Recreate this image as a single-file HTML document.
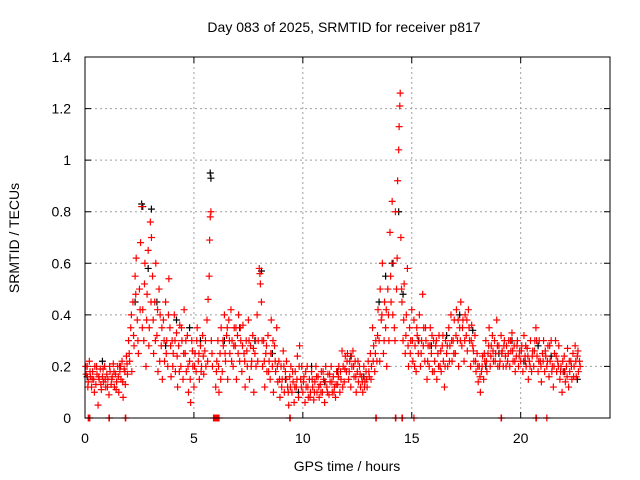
<!DOCTYPE html>
<html><head><meta charset="utf-8"><style>
body{margin:0;background:#fff}
svg{display:block;font-family:"Liberation Sans",sans-serif}
</style></head><body>
<svg id="chart" width="640" height="480" xmlns="http://www.w3.org/2000/svg">
<text x="344" y="32" font-size="14" text-anchor="middle">Day 083 of 2025, SRMTID for receiver p817</text>
<text x="347" y="471" font-size="14" text-anchor="middle">GPS time / hours</text>
<text transform="translate(19,238) rotate(-90)" font-size="14" text-anchor="middle">SRMTID / TECUs</text>
<g id="grid"></g>
<g id="ticks"></g>
<g id="black"></g>
<g id="red"></g>
<rect x="85" y="57" width="525" height="361" fill="none" stroke="#000" stroke-width="1"/>
</svg>
<script>
const xTicks=[0,5,10,15,20];
const yTicks=[0,0.2,0.4,0.6,0.8,1,1.2,1.4];
const yTickLabels=["0","0.2","0.4","0.6","0.8","1","1.2","1.4"];
const redPoints=[[0.05,.17],[0.1,.2],[0.15,.14],[0.2,.22],[0.25,.16],[0.3,.12],[0.35,.18],[0.4,.15],[0.45,.2],[0.5,.13],[0.55,.17],[0.6,.05],[0.65,.15],[0.7,.19],[0.75,.11],[0.8,.16],[0.85,.14],[0.9,.2],[0.95,.12],[1.0,.17],[1.05,.15],[1.1,.09],[1.15,.18],[1.2,.13],[1.25,.16],[1.3,.21],[1.35,.12],[1.4,.17],[1.45,.14],[1.5,.2],[1.55,.1],[1.6,.18],[1.65,.15],[1.7,.22],[1.75,.08],[1.8,.19],[1.85,.13],[1.9,.24],[1.95,.17],
[2.0,.3],[2.05,.22],[2.1,.35],[2.15,.18],[2.2,.45],[2.25,.28],[2.3,.55],[2.35,.62],[2.4,.38],[2.45,.25],[2.5,.5],[2.55,.68],[2.6,.82],[2.65,.42],[2.7,.3],[2.75,.6],[2.8,.2],[2.85,.48],[2.9,.65],[2.95,.35],[3.0,.76],[3.05,.7],[3.1,.55],[3.15,.25],[3.2,.45],[3.25,.6],[3.3,.32],[3.35,.18],[3.4,.5],[3.45,.4],[3.5,.28],[3.55,.15],[3.6,.38],[3.65,.22],[3.7,.45],[3.75,.3],[3.8,.2],[3.85,.54],[3.9,.35],[3.95,.16],[4.0,.3],[4.05,.25],[4.1,.4],[4.15,.18],[4.2,.33],[4.25,.12],[4.3,.28],[4.35,.36],[4.4,.2],[4.45,.3],[4.5,.15],[4.55,.42],[4.6,.25],[4.65,.18],[4.7,.32],[4.75,.1],[4.8,.22],[4.85,.06],[4.9,.3],[4.95,.2],[5.0,.12],[5.05,.25],[5.1,.18],[5.15,.35],[5.2,.22],[5.25,.15],[5.3,.28],[5.35,.2],[5.4,.32],[5.45,.17],[5.5,.26],[5.55,.2],[5.6,.38],[5.65,.46],[5.7,.55],[5.72,.69],[5.75,.78],[5.78,.8],[5.8,.3],[5.85,.2],
[6.0,.12],[6.05,.22],[6.1,.3],[6.15,.1],[6.2,.25],[6.25,.35],[6.3,.18],[6.35,.28],[6.4,.4],[6.45,.22],[6.5,.32],[6.55,.15],[6.6,.38],[6.65,.25],[6.7,.42],[6.75,.3],[6.8,.2],[6.85,.35],[6.9,.28],[6.95,.15],[7.0,.32],[7.05,.4],[7.1,.22],[7.15,.3],[7.2,.18],[7.25,.36],[7.3,.25],[7.35,.12],[7.4,.3],[7.45,.2],[7.5,.38],[7.55,.15],[7.6,.28],[7.65,.22],[7.7,.32],[7.75,.1],[7.8,.25],[7.85,.2],[7.9,.4],[7.95,.3],[8.0,.58],[8.05,.52],[8.1,.45],[8.15,.2],[8.2,.3],[8.25,.12],[8.3,.25],[8.35,.18],[8.4,.32],[8.45,.22],[8.5,.15],[8.55,.38],[8.6,.2],[8.65,.1],[8.7,.28],[8.75,.18],[8.8,.35],[8.85,.14],[8.9,.22],[8.95,.08],[9.0,.2],[9.05,.15],[9.1,.26],[9.15,.1],[9.2,.18],[9.25,.22],[9.3,.12],[9.35,.05],[9.4,.16],[9.45,.2],[9.5,.1],[9.55,.14],[9.6,.06],[9.65,.18],[9.7,.12],[9.75,.24],[9.8,.08],[9.85,.28],[9.9,.15],[9.95,.2],
[10.0,.1],[10.05,.16],[10.1,.06],[10.15,.12],[10.2,.2],[10.25,.08],[10.3,.15],[10.35,.1],[10.4,.18],[10.45,.12],[10.5,.07],[10.55,.14],[10.6,.2],[10.65,.1],[10.7,.16],[10.75,.08],[10.8,.13],[10.85,.18],[10.9,.1],[10.95,.15],[11.0,.06],[11.05,.2],[11.1,.12],[11.15,.17],[11.2,.09],[11.25,.14],[11.3,.2],[11.35,.1],[11.4,.16],[11.45,.12],[11.5,.08],[11.55,.18],[11.6,.13],[11.65,.2],[11.7,.1],[11.75,.15],[11.8,.26],[11.85,.2],[11.9,.14],[11.95,.24],[12.0,.18],[12.05,.25],[12.1,.15],[12.15,.22],[12.2,.12],[12.25,.2],[12.3,.26],[12.35,.16],[12.4,.22],[12.45,.1],[12.5,.18],[12.55,.14],[12.6,.2],[12.65,.12],[12.7,.16],[12.75,.1],[12.8,.2],[12.85,.14],[12.9,.18],[12.95,.12],[13.0,.22],[13.05,.16],[13.1,.25],[13.15,.2],[13.2,.35],[13.25,.28],[13.3,.18],[13.35,.3],[13.4,.22],[13.45,.42],[13.5,.3],[13.55,.5],[13.6,.38],[13.65,.6],[13.7,.25],[13.75,.45],[13.8,.35],[13.85,.2],[13.9,.5],[13.95,.3],[14.0,.72],[14.05,.45],[14.1,.84],[14.15,.6],[14.2,.35],[14.25,.8],[14.3,.5],[14.35,.92],[14.4,1.04],[14.42,1.13],[14.45,1.21],[14.47,1.26],[14.5,.7],[14.55,.45],[14.6,.3],[14.65,.52],[14.7,.25],[14.75,.4],[14.8,.58],[14.85,.2],[14.9,.35],[14.95,.3],
[15.0,.42],[15.05,.22],[15.1,.38],[15.15,.28],[15.2,.18],[15.25,.32],[15.3,.25],[15.35,.4],[15.4,.2],[15.45,.3],[15.5,.48],[15.55,.35],[15.6,.22],[15.65,.3],[15.7,.15],[15.75,.28],[15.8,.2],[15.85,.35],[15.9,.25],[15.95,.18],[16.0,.3],[16.05,.22],[16.1,.28],[16.15,.15],[16.2,.25],[16.25,.32],[16.3,.2],[16.35,.18],[16.4,.28],[16.45,.22],[16.5,.12],[16.55,.3],[16.6,.25],[16.65,.2],[16.7,.35],[16.75,.28],[16.8,.4],[16.85,.22],[16.9,.3],[16.95,.38],[17.0,.25],[17.05,.42],[17.1,.3],[17.15,.2],[17.2,.35],[17.25,.45],[17.3,.28],[17.35,.38],[17.4,.22],[17.45,.4],[17.5,.32],[17.55,.26],[17.6,.42],[17.65,.3],[17.7,.2],[17.75,.36],[17.8,.28],[17.85,.22],[17.9,.32],[17.95,.18],[18.0,.25],[18.05,.14],[18.1,.2],[18.15,.1],[18.2,.18],[18.25,.24],[18.3,.15],[18.35,.22],[18.4,.3],[18.45,.18],[18.5,.25],[18.55,.35],[18.6,.2],[18.65,.28],[18.7,.32],[18.75,.22],[18.8,.3],[18.85,.25],[18.9,.38],[18.95,.2],[19.0,.28],[19.05,.22],[19.1,.32],[19.15,.26],[19.2,.2],[19.25,.3],[19.3,.24],[19.35,.28],[19.4,.22],[19.45,.3],[19.5,.2],[19.55,.26],[19.6,.33],[19.65,.22],[19.7,.28],[19.75,.18],[19.8,.24],[19.85,.3],[19.9,.2],[19.95,.26],
[20.0,.22],[20.05,.28],[20.1,.18],[20.15,.32],[20.2,.24],[20.25,.2],[20.3,.27],[20.35,.15],[20.4,.22],[20.45,.3],[20.5,.18],[20.55,.26],[20.6,.2],[20.65,.3],[20.7,.35],[20.75,.24],[20.8,.18],[20.85,.3],[20.9,.22],[20.95,.14],[21.0,.25],[21.05,.3],[21.1,.18],[21.15,.24],[21.2,.2],[21.25,.28],[21.3,.16],[21.35,.22],[21.4,.3],[21.45,.2],[21.5,.12],[21.55,.25],[21.6,.3],[21.65,.18],[21.7,.22],[21.75,.28],[21.8,.15],[21.85,.2],[21.9,.1],[21.95,.18],[22.0,.24],[22.05,.14],[22.1,.2],[22.15,.27],[22.2,.12],[22.25,.18],[22.3,.22],[22.35,.15],[22.4,.25],[22.45,.2],[22.5,.28],[22.55,.16],[22.6,.24],[22.65,.18],[22.7,.22],
[0.15,0],[0.2,0],[0.22,0],[1.1,0],[1.12,0],[1.85,0],[1.87,0],[5.9,0],[5.95,0],[6.0,0],[6.05,0],[6.1,0],[6.15,0],[9.4,0],[9.42,0],[13.35,0],[13.37,0],[14.25,0],[14.27,0],[14.55,0],[14.57,0],[15.1,0],[19.1,0],[19.12,0],[20.7,0],[20.72,0],[21.2,0]];
const redPoints2=[[0.03,.2],[0.13,.12],[0.23,.18],[0.33,.15],[0.43,.1],[0.53,.2],[0.63,.16],[0.73,.13],[0.83,.19],[0.93,.15],[1.03,.12],[1.13,.2],[1.23,.15],[1.33,.18],[1.43,.11],[1.53,.16],[1.63,.2],[1.73,.14],[1.83,.18],[1.93,.21],
[2.03,.25],[2.13,.4],[2.23,.32],[2.33,.48],[2.43,.3],[2.53,.42],[2.63,.35],[2.73,.52],[2.83,.38],[2.93,.28],[3.03,.45],[3.13,.38],[3.23,.3],[3.33,.42],[3.43,.22],[3.53,.35],[3.63,.3],[3.73,.25],[3.83,.4],[3.93,.28],[4.03,.2],[4.13,.3],[4.23,.24],[4.33,.18],[4.43,.35],[4.53,.25],[4.63,.3],[4.73,.2],[4.83,.15],[4.93,.26],[5.03,.2],[5.13,.3],[5.23,.25],[5.33,.18],[5.43,.24],[5.53,.3],[5.63,.22],[5.83,.25],
[6.03,.18],[6.13,.2],[6.23,.15],[6.33,.3],[6.43,.25],[6.53,.35],[6.63,.3],[6.73,.22],[6.83,.28],[6.93,.35],[7.03,.25],[7.13,.35],[7.23,.28],[7.33,.22],[7.43,.26],[7.53,.3],[7.63,.2],[7.73,.27],[7.83,.3],[7.93,.22],[8.03,.56],[8.13,.3],[8.23,.22],[8.33,.28],[8.43,.18],[8.53,.25],[8.63,.3],[8.73,.22],[8.83,.2],[8.93,.15],[9.03,.12],[9.13,.2],[9.23,.15],[9.33,.1],[9.43,.12],[9.53,.18],[9.63,.12],[9.73,.15],[9.83,.2],[9.93,.12],
[10.03,.14],[10.13,.18],[10.23,.12],[10.33,.08],[10.43,.15],[10.53,.1],[10.63,.16],[10.73,.12],[10.83,.1],[10.93,.18],[11.03,.14],[11.13,.1],[11.23,.17],[11.33,.14],[11.43,.1],[11.53,.13],[11.63,.16],[11.73,.18],[11.83,.12],[11.93,.19],[12.03,.22],[12.13,.18],[12.23,.24],[12.33,.2],[12.43,.16],[12.53,.22],[12.63,.17],[12.73,.14],[12.83,.12],[12.93,.15],[13.03,.18],[13.13,.15],[13.23,.22],[13.33,.25],[13.43,.32],[13.53,.22],[13.63,.4],[13.73,.3],[13.83,.42],[13.93,.4],[14.03,.55],[14.13,.4],[14.23,.3],[14.33,.62],[14.53,.5],[14.63,.38],[14.73,.32],[14.83,.28],[14.93,.25],
[15.03,.3],[15.13,.2],[15.23,.35],[15.33,.3],[15.43,.25],[15.53,.28],[15.63,.35],[15.73,.22],[15.83,.28],[15.93,.32],[16.03,.18],[16.13,.3],[16.23,.2],[16.33,.26],[16.43,.32],[16.53,.2],[16.63,.28],[16.73,.22],[16.83,.3],[16.93,.25],[17.03,.32],[17.13,.38],[17.23,.3],[17.33,.35],[17.43,.3],[17.53,.38],[17.63,.35],[17.73,.3],[17.83,.26],[17.93,.22],[18.03,.2],[18.13,.16],[18.23,.2],[18.33,.25],[18.43,.22],[18.53,.28],[18.63,.24],[18.73,.26],[18.83,.22],[18.93,.28],[19.03,.2],[19.13,.25],[19.23,.28],[19.33,.2],[19.43,.25],[19.53,.3],[19.63,.26],[19.73,.22],[19.83,.28],[19.93,.24],
[20.03,.26],[20.13,.22],[20.23,.28],[20.33,.24],[20.43,.2],[20.53,.24],[20.63,.26],[20.73,.3],[20.83,.22],[20.93,.2],[21.03,.22],[21.13,.26],[21.23,.22],[21.33,.28],[21.43,.18],[21.53,.2],[21.63,.24],[21.73,.2],[21.83,.18],[21.93,.22],[22.03,.18],[22.13,.16],[22.23,.22],[22.33,.2],[22.43,.16],[22.53,.22],[22.63,.26],[22.73,.2]];
const blackPoints=[[0.1,.16],[0.8,.22],[1.6,.2],[2.3,.45],[2.6,.83],[2.65,.82],[2.9,.58],[3.05,.81],[3.3,.45],[3.7,.28],[4.2,.38],[4.8,.35],[5.3,.3],[5.75,.95],[5.78,.93],[6.4,.3],[7.1,.35],[7.8,.3],[8.1,.57],[8.6,.25],[9.2,.15],[9.8,.1],[10.4,.2],[11.0,.14],[11.6,.18],[12.2,.24],[12.8,.16],[13.5,.45],[13.8,.55],[14.1,.6],[14.4,.8],[14.6,.48],[15.3,.3],[15.9,.28],[16.6,.32],[17.2,.4],[17.8,.34],[18.4,.2],[19.0,.25],[19.6,.3],[20.2,.22],[20.8,.28],[21.4,.24],[22.0,.18],[22.6,.15]];
const X0=85,X1=610,Y0=418,Y1=57,XMAX=24.1,YMAX=1.4;
function xs(t){return X0+(X1-X0)*t/XMAX;}
function ys(v){return Y0-(Y0-Y1)*v/YMAX;}
const NS="http://www.w3.org/2000/svg";
function mk(tag,attrs,parent){const e=document.createElementNS(NS,tag);for(const k in attrs)e.setAttribute(k,attrs[k]);parent.appendChild(e);return e;}
const grid=document.getElementById('grid'),ticks=document.getElementById('ticks');
xTicks.forEach(t=>{const x=xs(t);
 if(t>0){const g=mk('line',{x1:x,x2:x,y1:Y1,y2:Y0,stroke:'#a0a0a0','stroke-dasharray':'2,3'},grid);
 
 }
 const a=mk('path',{d:`M${x},${Y0}v-6M${x},${Y1}v6`,stroke:'#000'},ticks);
 
 
 const l=mk('text',{x:x,y:Y0+25,'font-size':14,'text-anchor':'middle'},ticks);l.textContent=String(t);
 
 });
yTicks.forEach((v,i)=>{const y=ys(v);
 if(v>0&&v<YMAX){const g=mk('line',{x1:X0,x2:X1,y1:y,y2:y,stroke:'#a0a0a0','stroke-dasharray':'2,3'},grid);
 
 }
 const a=mk('path',{d:`M${X0},${y}h6M${X1},${y}h-6`,stroke:'#000'},ticks);
 
 
 const l=mk('text',{x:X0-14,y:y+5,'font-size':14,'text-anchor':'end'},ticks);l.textContent=yTickLabels[i];
 
 });
function draw(pts,color,g,name){let d='';pts.forEach(p=>{const x=xs(p[0]),y=ys(p[1]);d+=`M${x-3.5},${y}h7M${x},${y-3.5}v7`;});
 const e=mk('path',{d:d,stroke:color,'stroke-width':1.2,fill:'none'},g);
 
 }
draw(blackPoints,'#000',document.getElementById('black'),'black-points');
draw(redPoints,'#ff0000',document.getElementById('red'),'red-points');
draw(redPoints2,'#ff0000',document.getElementById('red'),'red-points-2');
</script>
</body></html>
